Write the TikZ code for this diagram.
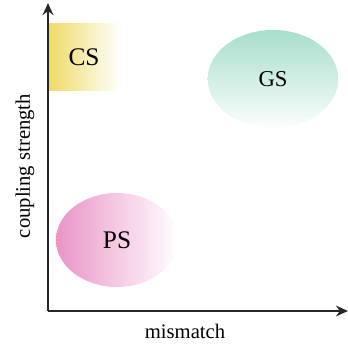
\documentclass[tikz,border=0pt]{standalone}
\usepackage{fontspec}
\setmainfont{Liberation Serif}
\usetikzlibrary{arrows.meta,shapes.geometric}

\definecolor{csyellow}{RGB}{238,218,100}
\definecolor{gsmint}{RGB}{168,222,204}
\definecolor{pspink}{RGB}{234,148,198}

\begin{document}
\begin{tikzpicture}[x=0.75pt,y=-0.75pt]
            \useasboundingbox (0,0) rectangle (348,346);

            \node[draw=none, minimum width=54pt, minimum height=49.5pt,
                  left color=csyellow, right color=white, font=\fontsize{19}{22}\selectfont]
                  (cs) at (84,57) {CS};
            \node[ellipse, minimum width=98pt, minimum height=73.5pt,
                  top color=gsmint, bottom color=white!96!gsmint, font=\fontsize{17}{20}\selectfont]
                  (gs) at (273,79) {GS};
            \node[ellipse, minimum width=91.5pt, minimum height=70.5pt,
                  left color=pspink, right color=white, font=\fontsize{19}{22}\selectfont]
                  (ps) at (117,240) {PS};

            \coordinate (o) at (48,311);
            \coordinate (xe) at (348,311);
            \coordinate (ye) at (48,3);

            \draw[line width=1.6pt, black!85, -{Stealth[length=9pt,width=8pt]}] (o) -- (xe);
            \draw[line width=1.6pt, black!85, -{Stealth[length=9pt,width=8pt]}] (o) -- (ye);

            \node[font=\fontsize{15.5}{18}\selectfont] (xl) at (185,331) {mismatch};
            \node[rotate=90, font=\fontsize{15.5}{18}\selectfont] (yl) at (25,166) {coupling strength};
        \end{tikzpicture}
\end{document}
